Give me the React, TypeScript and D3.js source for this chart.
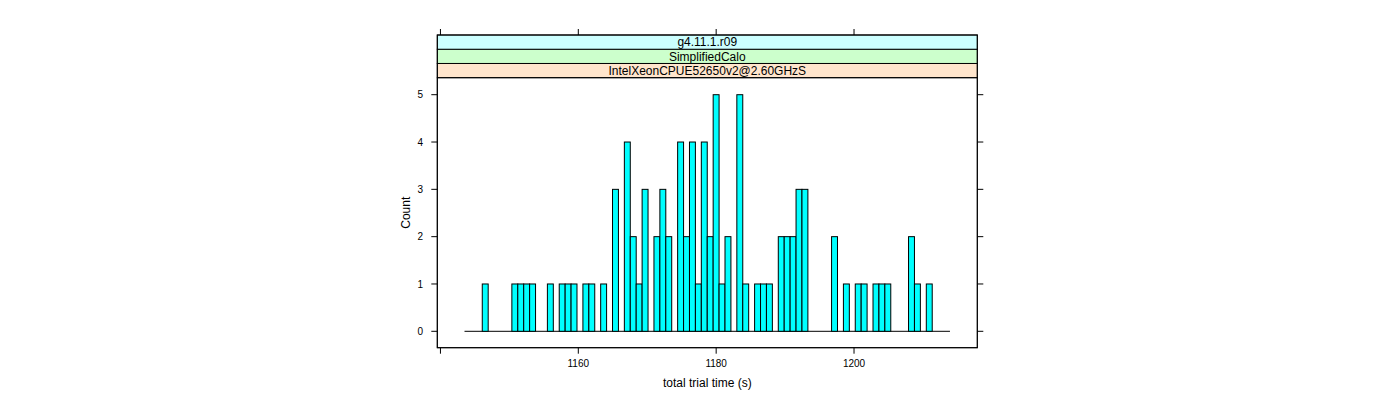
import React from "react";
import * as d3 from "d3";

// ---- data ----
const stripLabels = ["IntelXeonCPUE52650v2@2.60GHzS", "SimplifiedCalo", "g4.11.1.r09"]; // bottom -> top
const stripColors = ["#FFE5CC", "#CCFFCC", "#CCFFFF"];
const binStart = 1143.49;
const binWidth = 0.8589;
const counts = [
  0, 0, 0, 1, 0, 0, 0, 0, 1, 1,
  1, 1, 0, 0, 1, 0, 1, 1, 1, 0,
  1, 1, 0, 1, 0, 3, 0, 4, 2, 1,
  3, 0, 2, 3, 2, 0, 4, 2, 4, 1,
  4, 2, 5, 1, 2, 0, 5, 1, 0, 1,
  1, 1, 0, 2, 2, 2, 3, 3, 0, 0,
  0, 0, 2, 0, 1, 0, 1, 1, 0, 1,
  1, 1, 0, 0, 0, 2, 1, 0, 1, 0,
  0, 0,
];
const xTicks = [1140, 1160, 1180, 1200];
const xTickLabels = ["", "1160", "1180", "1200"];
const yTicks = [0, 1, 2, 3, 4, 5];
const xLabel = "total trial time (s)";
const yLabel = "Count";

export default function App() {
  const panelL = 437.3, panelR = 977.3, panelT = 77.7, panelB = 347.7;
  const stripTop = 35;
  const stripH = (panelT - stripTop) / 3;
  const x = d3.scaleLinear().domain([1139.5, 1217.84]).range([437, 977]);
  const y = d3.scaleLinear().domain([0, 5]).range([331.3, 94.7]);
  const font = "'Liberation Sans', Arial, Helvetica, sans-serif";
  const bins = counts.map((c, i) => ({ x0: binStart + i * binWidth, x1: binStart + (i + 1) * binWidth, c }));
  const binEnd = binStart + counts.length * binWidth;
  const tk = 6;
  return (
    <svg width={1400} height={400} style={{ position: "absolute", left: 0, top: 0, background: "#fff" }} fontFamily={font}>
      {/* baseline (zero-height bins) */}
      <line x1={x(binStart)} x2={x(binEnd)} y1={y(0)} y2={y(0)} stroke="#000" strokeWidth={1} />
      {bins.filter((b) => b.c > 0).map((b, i) => (
        <rect key={i} x={x(b.x0)} y={y(b.c)} width={x(b.x1) - x(b.x0)} height={y(0) - y(b.c)}
          fill="#00FFFF" stroke="#000" strokeWidth={1} />
      ))}
      {/* strips */}
      {stripLabels.map((s, i) => {
        const top = panelT - (i + 1) * stripH;
        return (
          <g key={s}>
            <rect x={panelL} y={top} width={panelR - panelL} height={stripH} fill={stripColors[i]} stroke="#000" strokeWidth={1} />
            <text x={(panelL + panelR) / 2} y={top + stripH / 2 + 4.2} textAnchor="middle" fontSize={12} fill="#000">{s}</text>
          </g>
        );
      })}
      {/* panel border */}
      <rect x={panelL} y={panelT} width={panelR - panelL} height={panelB - panelT} fill="none" stroke="#000" strokeWidth={1} />
      <rect x={panelL} y={stripTop} width={panelR - panelL} height={panelB - stripTop} fill="none" stroke="#000" strokeWidth={1} />
      {/* bottom axis */}
      {xTicks.map((t, i) => (
        <g key={"b" + t}>
          <line x1={x(t)} x2={x(t)} y1={panelB} y2={panelB + tk} stroke="#000" />
          <line x1={x(t)} x2={x(t)} y1={stripTop} y2={stripTop - tk} stroke="#000" />
          <text x={x(t)} y={366.5} textAnchor="middle" fontSize={10} fill="#000">{xTickLabels[i]}</text>
        </g>
      ))}
      {/* left / right axes */}
      {yTicks.map((t) => (
        <g key={"y" + t}>
          <line x1={panelL} x2={panelL - tk} y1={y(t)} y2={y(t)} stroke="#000" />
          <line x1={panelR} x2={panelR + tk} y1={y(t)} y2={y(t)} stroke="#000" />
          <text x={423} y={y(t) + 3.6} textAnchor="end" fontSize={10} fill="#000">{t}</text>
        </g>
      ))}
      <text x={(panelL + panelR) / 2} y={387} textAnchor="middle" fontSize={12} fill="#000">{xLabel}</text>
      <text transform={`translate(409.5, ${(panelT + panelB) / 2}) rotate(-90)`} textAnchor="middle" fontSize={12} fill="#000">{yLabel}</text>
    </svg>
  );
}
